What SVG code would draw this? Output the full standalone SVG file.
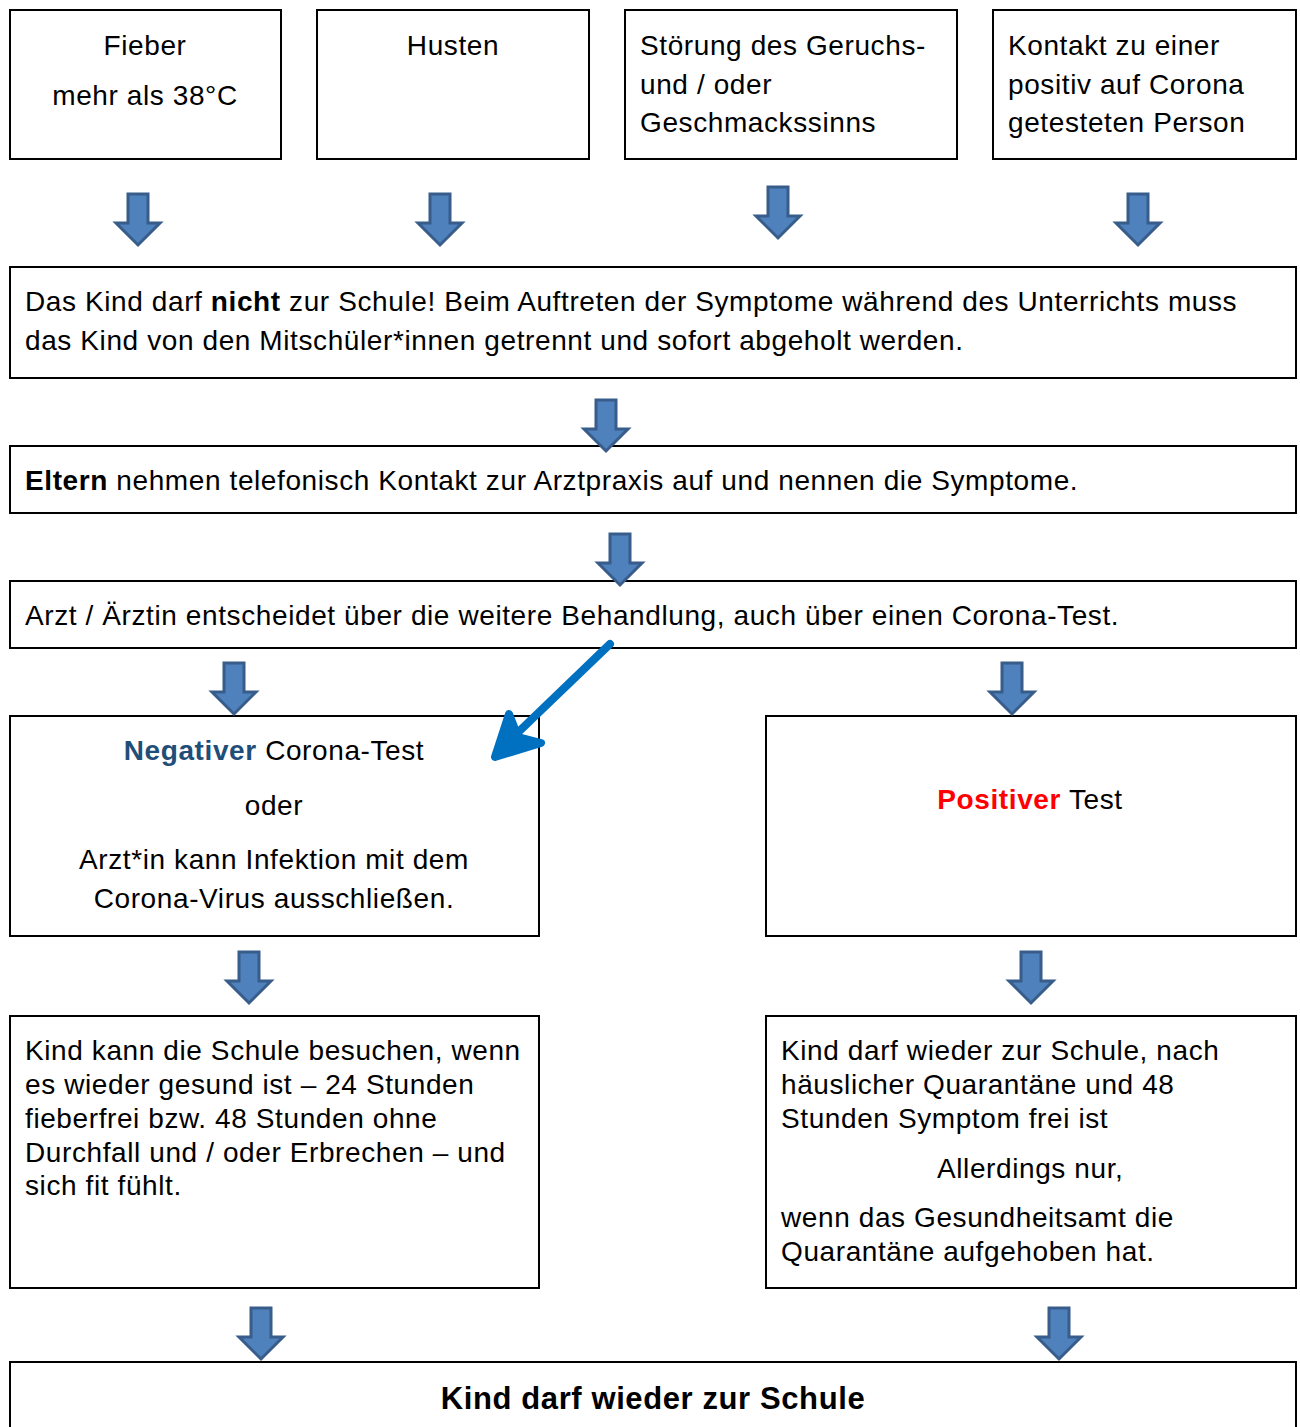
<svg xmlns="http://www.w3.org/2000/svg" xmlns:xlink="http://www.w3.org/1999/xlink" width="1300" height="1427" viewBox="0 0 1300 1427">
<style>
.box{fill:#fff;stroke:#000;stroke-width:2}
text{font-family:"Liberation Sans",Arial,sans-serif;font-size:28px;letter-spacing:0.6px;fill:#000}
.c{text-anchor:middle}
.b{font-weight:bold}
.t{font-size:31px}
.blk{fill:#4F81BD;stroke:#385D8A;stroke-width:3;stroke-linejoin:miter}
</style>
<defs>
<path id="dn" class="blk" d="M-10 0 H10 V29 H22 L0 51 L-22 29 H-10 Z"/>
</defs>
<rect width="1300" height="1427" fill="#fff"/>

<g id="n1"><rect class="box" x="10" y="10" width="271" height="149"/>
<text class="c" x="145" y="55">Fieber</text><text class="c" x="145" y="105">mehr als 38°C</text></g>
<g id="n2"><rect class="box" x="317" y="10" width="272" height="149"/>
<text class="c" x="453" y="55">Husten</text></g>
<g id="n3"><rect class="box" x="625" y="10" width="332" height="149"/>
<text x="640" y="55">Störung des Geruchs-</text><text x="640" y="94">und / oder</text><text x="640" y="132">Geschmackssinns</text></g>
<g id="n4"><rect class="box" x="993" y="10" width="303" height="149"/>
<text x="1008" y="55">Kontakt zu einer</text><text x="1008" y="94">positiv auf Corona</text><text x="1008" y="132">getesteten Person</text></g>

<g id="n5"><rect class="box" x="10" y="267" width="1286" height="111"/>
<text x="25" y="311">Das Kind darf <tspan class="b">nicht</tspan> zur Schule! Beim Auftreten der Symptome während des Unterrichts muss</text>
<text x="25" y="350">das Kind von den Mitschüler*innen getrennt und sofort abgeholt werden.</text></g>

<g id="n6"><rect class="box" x="10" y="446" width="1286" height="67"/>
<text x="25" y="490"><tspan class="b">Eltern</tspan> nehmen telefonisch Kontakt zur Arztpraxis auf und nennen die Symptome.</text></g>

<g id="n7"><rect class="box" x="10" y="581" width="1286" height="67"/>
<text x="25" y="625">Arzt / Ärztin entscheidet über die weitere Behandlung, auch über einen Corona-Test.</text></g>

<g id="n8"><rect class="box" x="10" y="716" width="529" height="220"/>
<text class="c" x="274" y="760"><tspan class="b" fill="#1F4E79">Negativer</tspan> Corona-Test</text>
<text class="c" x="274" y="815">oder</text>
<text class="c" x="274" y="869">Arzt*in kann Infektion mit dem</text>
<text class="c" x="274" y="908">Corona-Virus ausschließen.</text></g>

<g id="n9"><rect class="box" x="766" y="716" width="530" height="220"/>
<text class="c" x="1030" y="809"><tspan class="b" fill="#FF0000">Positiver</tspan> Test</text></g>

<g id="n10"><rect class="box" x="10" y="1016" width="529" height="272"/>
<text x="25" y="1060">Kind kann die Schule besuchen, wenn</text>
<text x="25" y="1094">es wieder gesund ist – 24 Stunden</text>
<text x="25" y="1128">fieberfrei bzw. 48 Stunden ohne</text>
<text x="25" y="1162">Durchfall und / oder Erbrechen – und</text>
<text x="25" y="1195">sich fit fühlt.</text></g>

<g id="n11"><rect class="box" x="766" y="1016" width="530" height="272"/>
<text x="781" y="1060">Kind darf wieder zur Schule, nach</text>
<text x="781" y="1094">häuslicher Quarantäne und 48</text>
<text x="781" y="1128">Stunden Symptom frei ist</text>
<text x="937" y="1178">Allerdings nur,</text>
<text x="781" y="1227">wenn das Gesundheitsamt die</text>
<text x="781" y="1261">Quarantäne aufgehoben hat.</text></g>

<g id="n12"><rect class="box" x="10" y="1362" width="1286" height="80"/>
<text class="c b t" x="653" y="1409">Kind darf wieder zur Schule</text></g>

<g id="connectors">
<use xlink:href="#dn" x="138" y="194"/>
<use xlink:href="#dn" x="440" y="194"/>
<use xlink:href="#dn" x="778" y="187"/>
<use xlink:href="#dn" x="1138" y="194"/>
<use xlink:href="#dn" x="606" y="400"/>
<use xlink:href="#dn" x="620" y="534"/>
<use xlink:href="#dn" x="234" y="663"/>
<use xlink:href="#dn" x="1012" y="663"/>
<use xlink:href="#dn" x="249" y="952"/>
<use xlink:href="#dn" x="1031" y="952"/>
<use xlink:href="#dn" x="261" y="1308"/>
<use xlink:href="#dn" x="1059" y="1308"/>
<g stroke="#0070C0" fill="#0070C0" stroke-width="8" stroke-linecap="round" stroke-linejoin="round">
<line x1="610" y1="644" x2="510" y2="740"/>
<polygon points="509,714 518,737 541,743 495,757"/>
</g>
</g>
</svg>
